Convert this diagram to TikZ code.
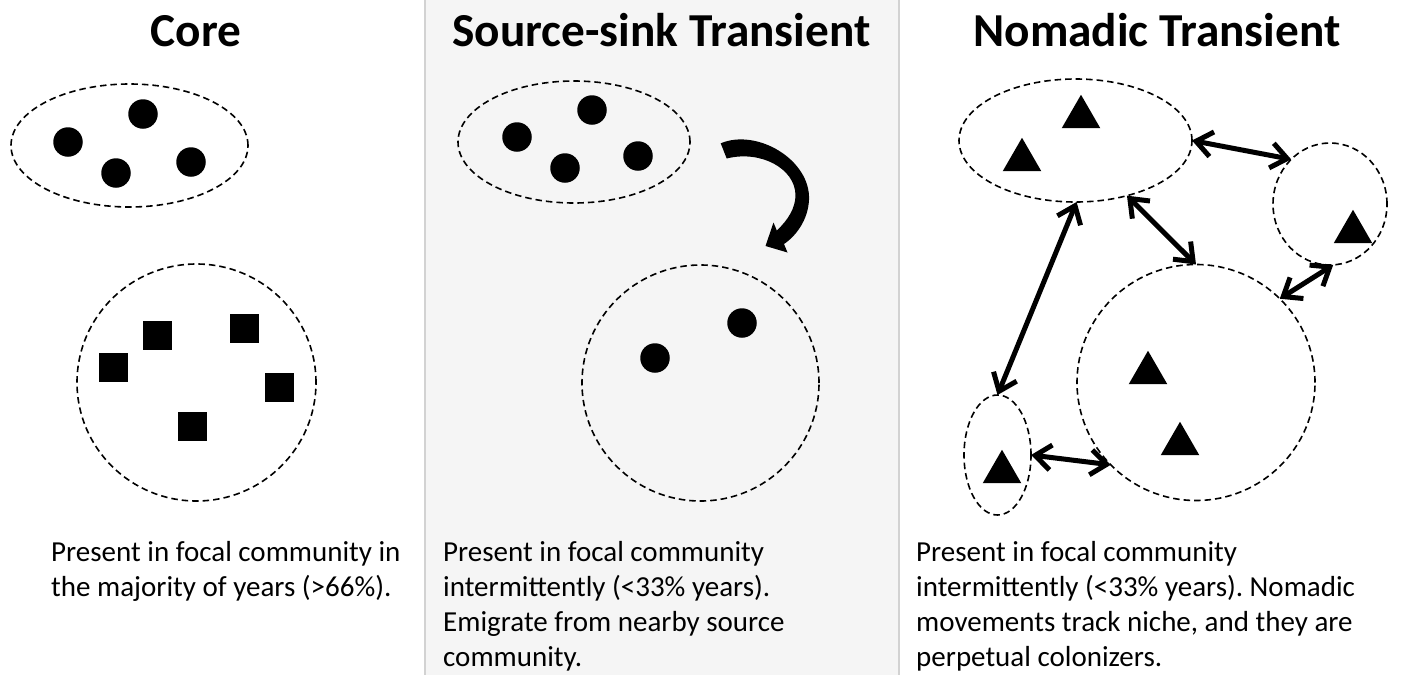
\documentclass[tikz,border=0pt]{standalone}
\usepackage{fontspec}
\setmainfont{Carlito}
\usetikzlibrary{shapes.geometric,arrows.meta}
\definecolor{panelgray}{RGB}{245,245,245}
\definecolor{panelline}{RGB}{210,210,210}
\frenchspacing
\begin{document}
\begin{tikzpicture}[x=1pt,y=-1pt,
  ring/.style={ellipse, draw=black, line width=1.6pt, dash pattern=on 6.5pt off 4pt, inner sep=0pt, outer sep=0pt},
  dot/.style={circle, fill=black, minimum size=29.5pt, inner sep=0pt, outer sep=0pt},
  sq/.style={rectangle, fill=black, minimum size=29pt, inner sep=0pt, outer sep=0pt},
  tri/.style={regular polygon, regular polygon sides=3, fill=black, minimum size=44.5pt, inner sep=0pt, outer sep=0pt},
  link/.style={{Straight Barb[length=16pt,width=25pt]}-{Straight Barb[length=16pt,width=25pt]}, line width=5pt, line cap=round, line join=round},
  title/.style={font=\fontsize{47.3}{50}\selectfont\bfseries, anchor=base, inner sep=0pt},
  body/.style={font=\fontsize{29}{35}\selectfont, anchor=base west, align=left, inner sep=0pt}]
\useasboundingbox (0,0) rectangle (1402,675);
\fill[white] (0,0) rectangle (1402,675);
% middle panel
\fill[panelgray] (425,0) rectangle (899,675);
\draw[panelline, line width=1.5pt] (425,0) -- (425,675);
\draw[panelline, line width=1.5pt] (899,0) -- (899,675);

% titles
\node[title] (t1) at (196,46) {Core};
\node[title] (t2) at (661.5,46) {Source-sink Transient};
\node[title] (t3) at (1157,46) {Nomadic Transient};

% Core panel
\node[ring, minimum width=237pt, minimum height=123pt] (cA) at (129.5,145.5) {};
\node[dot] (c1) at (68,142) {};
\node[dot] (c2) at (143,114) {};
\node[dot] (c3) at (116,173) {};
\node[dot] (c4) at (191,162) {};
\node[ring, minimum width=239pt, minimum height=237pt] (cB) at (196.5,382.5) {};
\node[sq] (s1) at (113.5,367) {};
\node[sq] (s2) at (157.5,335.5) {};
\node[sq] (s3) at (244.5,328.5) {};
\node[sq] (s4) at (279.5,387.5) {};
\node[sq] (s5) at (192.5,426.5) {};

% Source-sink panel
\node[ring, minimum width=232pt, minimum height=122pt] (sA) at (574,142) {};
\node[dot] (m1) at (517,137) {};
\node[dot] (m2) at (592,110) {};
\node[dot] (m3) at (565,168) {};
\node[dot] (m4) at (638,156) {};
\node[ring, minimum width=237pt, minimum height=236pt] (sB) at (700.5,383) {};
\node[dot] (m5) at (655,358) {};
\node[dot] (m6) at (742,323) {};
\fill (720.7,143.3) .. controls (757,128) and (811,160) .. (809,200)
  .. controls (808,220) and (796,236) .. (784,244)
  -- (787.5,252.5) -- (765.5,246) -- (773.5,222.5) -- (776.8,230.5)
  .. controls (788,220) and (795.5,208) .. (795.5,195)
  .. controls (795,168) and (760,150) .. (726.7,158.5) -- cycle;

% Nomadic panel
\node[ring, minimum width=233pt, minimum height=123pt] (nA) at (1075.5,140.5) {};
\node[tri] (n1) at (1081,117) {};
\node[tri] (n2) at (1022,160) {};
\node[ring, minimum width=114pt, minimum height=122pt] (nB) at (1330,204) {};
\node[tri] (n3) at (1353,232) {};
\node[ring, minimum width=238pt, minimum height=236pt] (nC) at (1196,382.5) {};
\node[tri] (n4) at (1148,373) {};
\node[tri] (n5) at (1180,444) {};
\node[ring, minimum width=67pt, minimum height=120pt] (nD) at (997.5,455) {};
\node[tri] (n6) at (1002,472) {};

\draw[link] (nA.0) -- (nB.131);
\draw[link] (nA.-47) -- (nC.90);
\draw[link] (nA.-89) -- (nD.90);
\draw[link] (nB.-87) -- (nC.45);
\draw[link] (nD.0) -- (nC.224.5);

% texts (anchor = baseline of the last line)
\node[body] (d1) at (51,596) {Present in focal community in\\the majority of years (>66\%).};
\node[body] (d2) at (443,666) {Present in focal community\\intermittently (<33\% years).\\Emigrate from nearby source\\community.};
\node[body] (d3) at (916,666) {Present in focal community\\intermittently (<33\% years). Nomadic\\movements track niche, and they are\\perpetual colonizers.};
\end{tikzpicture}
\end{document}
